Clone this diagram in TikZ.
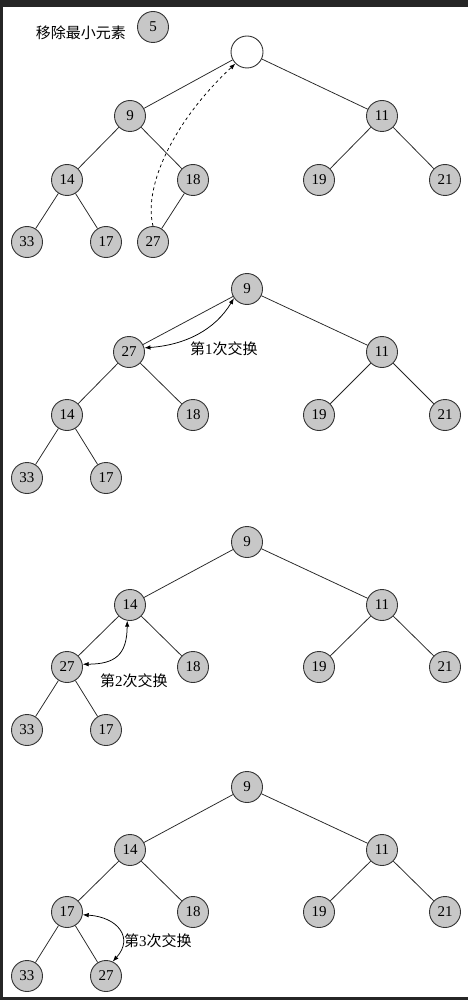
\documentclass[tikz,border=0pt]{standalone}
\usepackage{fontspec}
\setmainfont{Liberation Serif}
\newfontfamily\cjk{Noto Sans CJK SC}
\usetikzlibrary{positioning,arrows.meta}

\begin{document}
\begin{tikzpicture}[x=1pt,y=-1pt,>={Latex[length=6pt,width=4.5pt]},
  heapnode/.style={circle,draw=black!80,line width=0.9pt,fill=black!22,
    minimum size=31pt,inner sep=0pt,font=\fontsize{15}{17}\selectfont},
  holenode/.style={heapnode,fill=white,minimum size=32pt},
  edge/.style={draw=black!85,line width=0.75pt},
  swap/.style={<->,line width=0.75pt},
  note/.style={inner sep=0pt,font=\fontsize{15}{17}\selectfont}]

% frame of the scan
\fill[black!85] (0,0) rectangle (468,1000);
\fill[white] (3,7) rectangle (468,997);

% tree 1: remove the smallest element
\node[heapnode] (a5) at (153,27) {5};
\node[note,left=11pt of a5,yshift=-6pt] (atext) {\cjk 移除最小元素};
\node[holenode] (aroot) at (247,52) {};
\foreach \n/\x/\y/\t in {a9/130/116/9, a11/382/116/11, a14/67/180/14, a18/193/180/18,
  a19/319/180/19, a21/445/180/21, a33/27/242/33, a17/106/242/17, a27/153/242/27}
  \node[heapnode] (\n) at (\x,\y) {\t};
\foreach \a/\b in {aroot/a9, aroot/a11, a9/a14, a9/a18, a11/a19, a11/a21, a14/a33, a14/a17, a18/a27}
  \draw[edge] (\a) -- (\b);
\draw[dashed,->,line width=0.75pt] (a27.north) .. controls (143,185) and (175,120) .. (aroot.225);

% tree 2
\foreach \n/\x/\y/\t in {b9/247/289/9, b27/129/352/27, b11/382/352/11, b14/67/415/14, b18/193/415/18,
  b19/319/415/19, b21/445/415/21, b33/27/478/33, b17/106/478/17}
  \node[heapnode] (\n) at (\x,\y) {\t};
\foreach \a/\b in {b9/b27, b9/b11, b27/b14, b27/b18, b11/b19, b11/b21, b14/b33, b14/b17}
  \draw[edge] (\a) -- (\b);
\draw[swap] (b27.15) .. controls (185,345) and (215,330) .. (b9.215);
\node[note,anchor=west] (bnote) at (190,349) {{\cjk 第}1{\cjk 次交换}};

% tree 3
\foreach \n/\x/\y/\t in {c9/247/542/9, c14/130/605/14, c11/382/605/11, c27/67/667/27, c18/193/667/18,
  c19/319/667/19, c21/445/667/21, c33/27/730/33, c17/106/730/17}
  \node[heapnode] (\n) at (\x,\y) {\t};
\foreach \a/\b in {c9/c14, c9/c11, c14/c27, c14/c18, c11/c19, c11/c21, c27/c33, c27/c17}
  \draw[edge] (\a) -- (\b);
\draw[swap] (c27.10) .. controls (115,664) and (127,655) .. (c14.260);
\node[note,anchor=west] (cnote) at (100,681) {{\cjk 第}2{\cjk 次交换}};

% tree 4
\foreach \n/\x/\y/\t in {d9/247/787/9, d14/130/850/14, d11/382/850/11, d17/67/912/17, d18/193/912/18,
  d19/319/912/19, d21/445/912/21, d33/27/976/33, d27/106/976/27}
  \node[heapnode] (\n) at (\x,\y) {\t};
\foreach \a/\b in {d9/d14, d9/d11, d14/d17, d14/d18, d11/d19, d11/d21, d17/d33, d17/d27}
  \draw[edge] (\a) -- (\b);
\draw[swap] (d17.350) .. controls (118,917) and (134,938) .. (d27.65);
\node[note,anchor=west] (dnote) at (124,941) {{\cjk 第}3{\cjk 次交换}};

\end{tikzpicture}
\end{document}
